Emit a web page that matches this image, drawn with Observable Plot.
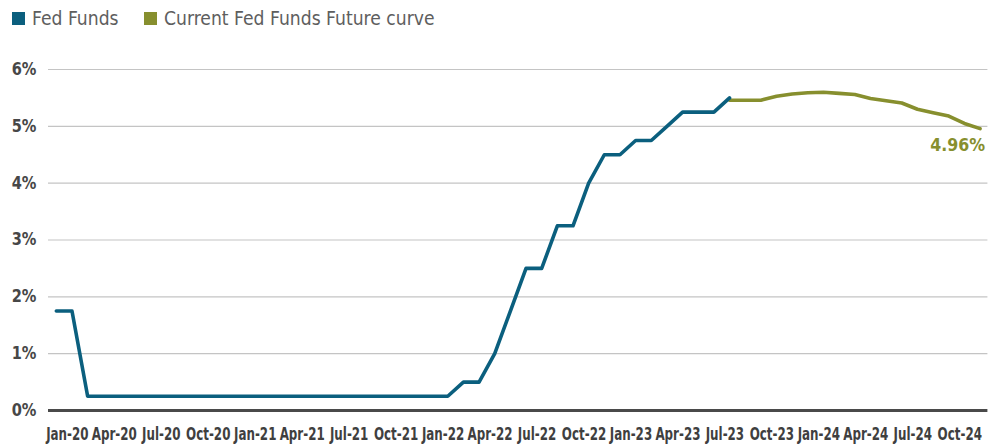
<!DOCTYPE html>
<html>
<head>
<meta charset="utf-8">
<script src="https://cdn.jsdelivr.net/npm/d3@7"></script>
<script src="https://cdn.jsdelivr.net/npm/@observablehq/plot@0.6"></script>
<style>
  html, body { margin: 0; padding: 0; background: #fff; }
  #wrap { width: 996px; height: 444px; position: relative; overflow: hidden; }
  #legend { height: 40px; position: relative; font-family: "DejaVu Sans", sans-serif; font-weight: 400; font-size: 20px; color: #5e5e5e; }
  .item { position: absolute; top: 6px; display: flex; align-items: center; white-space: nowrap; }
  .sw { width: 13px; height: 13px; display: inline-block; margin-right: 7px; }
  .lt { display: inline-block; transform: scaleX(0.86); transform-origin: left center; }
  svg text { font-family: "DejaVu Sans", sans-serif; }
</style>
</head>
<body>
<div id="wrap">
  <div id="legend"></div>
  <div id="chart"></div>
</div>
<script>
// Month index 0 = Jan-20
const fedMonths = [0,1,2,3,4,5,6,7,8,9,10,11,12,13,14,15,16,17,18,19,20,21,22,23,24,25,26,27,28,29,30,31,32,33,34,35,36,37,38,39,40,41,42,43];
const fedValues = [1.75,1.75,0.25,0.25,0.25,0.25,0.25,0.25,0.25,0.25,0.25,0.25,0.25,0.25,0.25,0.25,0.25,0.25,0.25,0.25,0.25,0.25,0.25,0.25,0.25,0.25,0.5,0.5,1.0,1.75,2.5,2.5,3.25,3.25,4.0,4.5,4.5,4.75,4.75,5.0,5.25,5.25,5.25,5.5];

const futMonths = [43,44,45,46,47,48,49,50,51,52,53,54,55,56,57,58,59];
const futValues = [5.46,5.46,5.46,5.53,5.57,5.59,5.60,5.58,5.56,5.49,5.45,5.41,5.30,5.24,5.18,5.05,4.96];

const tickMonths = [0,3,6,9,12,15,18,21,24,27,30,33,36,39,42,45,48,51,54,57];
const tickLabels = ["Jan-20","Apr-20","Jul-20","Oct-20","Jan-21","Apr-21","Jul-21","Oct-21","Jan-22","Apr-22","Jul-22","Oct-22","Jan-23","Apr-23","Jul-23","Oct-23","Jan-24","Apr-24","Jul-24","Oct-24"];
const yTicks = [0,1,2,3,4,5,6];

const seriesNames = ["Fed Funds", "Current Fed Funds Future curve"];
const colors = ["#0b5f7e", "#878f2e"];

const fed = fedMonths.map((m, i) => ({m, v: fedValues[i]}));
const fut = futMonths.map((m, i) => ({m, v: futValues[i]}));
const labelMap = new Map(tickMonths.map((m, i) => [m, tickLabels[i]]));

// legend
const legend = document.getElementById("legend");
const lx = [12, 144];
seriesNames.forEach((n, i) => {
  const it = document.createElement("div");
  it.className = "item";
  it.style.left = lx[i] + "px";
  it.innerHTML = `<span class="sw" style="background:${colors[i]}"></span><span class="lt">${n}</span>`;
  legend.appendChild(it);
});

const chart = Plot.plot({
  width: 996,
  height: 404,
  marginTop: 29,
  marginBottom: 34,
  marginLeft: 48,
  marginRight: 8.6,
  x: { domain: [-0.5, 59.5], axis: null },
  y: { domain: [0, 6], axis: null },
  marks: [
    Plot.gridY(yTicks.filter(d => d > 0), { stroke: "#c4c4c4", strokeOpacity: 1, strokeWidth: 1.2 }),
    Plot.ruleY([0], { stroke: "#4a4a4a", strokeWidth: 3 }),
    Plot.axisY(yTicks, { tickSize: 0, tickPadding: 12, tickFormat: d => d + "%", fontSize: 17, fontWeight: "bold", fill: "#474747", label: null }),
    Plot.axisX(tickMonths, { tickSize: 0, tickPadding: 17, tickFormat: d => labelMap.get(d), fontSize: 17, fontWeight: "bold", fill: "#3f3f3f", dx: 11, label: null }),
    Plot.line(fut, { x: "m", y: "v", stroke: colors[1], strokeWidth: 3.6 }),
    Plot.line(fed, { x: "m", y: "v", stroke: colors[0], strokeWidth: 3.6 }),
    Plot.text(fut.slice(-1), { x: "m", y: "v", text: d => d.v.toFixed(2) + "%", textAnchor: "end", dx: 5, dy: 17, fill: colors[1], fontSize: 17, fontWeight: "bold" })
  ]
});
document.getElementById("chart").appendChild(chart);

// condense text horizontally (the reference uses a condensed face)
const xLabelSet = new Set(tickLabels);
d3.select(chart).selectAll("text").each(function() {
  const txt = this.textContent;
  let s = null;
  if (xLabelSet.has(txt)) s = 0.70;
  else if (/^\d%$/.test(txt)) s = 0.86;
  else if (/^\d\.\d\d%$/.test(txt)) s = 0.93;
  if (!s) return;
  const w = this.getComputedTextLength();
  this.setAttribute("textLength", (w * s).toFixed(1));
  this.setAttribute("lengthAdjust", "spacingAndGlyphs");
});
</script>
</body>
</html>
